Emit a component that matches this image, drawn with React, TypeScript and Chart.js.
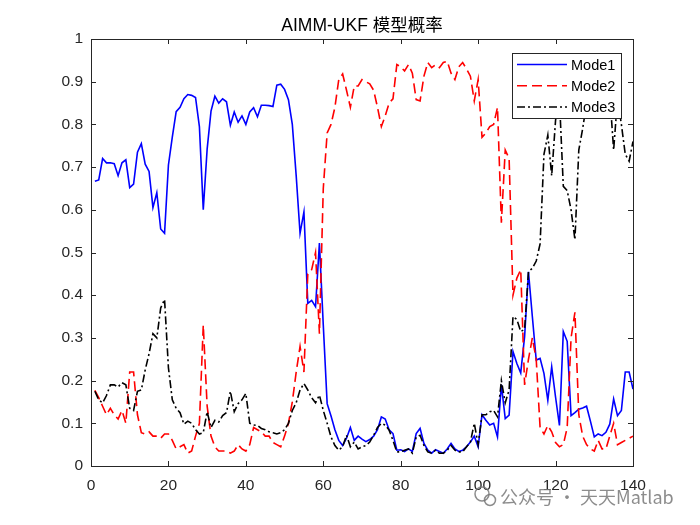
import React, { useEffect, useRef } from 'react';
import { Chart, registerables } from 'chart.js';

// Register Chart.js components
Chart.register(...registerables);

// Model probabilities, one value per step (steps 1..140)
const mode1 = [
  0.667, 0.67, 0.72, 0.71, 0.71, 0.708, 0.68, 0.71, 0.717, 0.652,
  0.66, 0.735, 0.755, 0.707, 0.69, 0.605, 0.64, 0.555, 0.545, 0.705,
  0.77, 0.83, 0.84, 0.86, 0.87, 0.868, 0.863, 0.795, 0.6, 0.742,
  0.831, 0.866, 0.85, 0.86, 0.853, 0.798, 0.829, 0.805, 0.82, 0.8,
  0.829, 0.839, 0.818, 0.845, 0.845, 0.844, 0.842, 0.892, 0.894, 0.882,
  0.858, 0.8, 0.68, 0.545, 0.595, 0.381, 0.388, 0.373, 0.522, 0.33,
  0.146, 0.117, 0.085, 0.06, 0.048, 0.065, 0.09, 0.06, 0.07, 0.063,
  0.057, 0.062, 0.07, 0.085, 0.115, 0.11, 0.085, 0.076, 0.037, 0.038,
  0.034, 0.04, 0.034, 0.076, 0.088, 0.053, 0.037, 0.03, 0.038, 0.034,
  0.03, 0.04, 0.053, 0.04, 0.034, 0.037, 0.045, 0.056, 0.07, 0.045,
  0.12, 0.107, 0.096, 0.1, 0.068, 0.19, 0.111, 0.119, 0.268, 0.24,
  0.218, 0.303, 0.455, 0.35, 0.248, 0.252, 0.217, 0.154, 0.232, 0.161,
  0.095, 0.315, 0.292, 0.118, 0.125, 0.133, 0.136, 0.14, 0.105, 0.068,
  0.075, 0.071, 0.079, 0.098, 0.157, 0.118, 0.13, 0.22, 0.22, 0.18,
];

const mode2 = [
  0.177, 0.16, 0.14, 0.12, 0.135, 0.12, 0.11, 0.13, 0.1, 0.22,
  0.22, 0.12, 0.078, 0.075, 0.08, 0.07, 0.07, 0.065, 0.075, 0.075,
  0.06, 0.04, 0.045, 0.05, 0.03, 0.035, 0.07, 0.1, 0.33, 0.14,
  0.07, 0.045, 0.035, 0.035, 0.035, 0.03, 0.035, 0.05, 0.04, 0.035,
  0.05, 0.09, 0.085, 0.08, 0.07, 0.07, 0.055, 0.05, 0.045, 0.07,
  0.1, 0.15, 0.22, 0.28, 0.22, 0.45, 0.46, 0.5, 0.31, 0.65,
  0.78, 0.8, 0.84, 0.905, 0.918, 0.88, 0.84, 0.89, 0.89, 0.905,
  0.9, 0.895, 0.88, 0.84, 0.795, 0.82, 0.85, 0.86, 0.94, 0.935,
  0.925, 0.94, 0.92, 0.858, 0.855, 0.913, 0.945, 0.933, 0.94, 0.933,
  0.945, 0.948, 0.92, 0.905, 0.935, 0.945, 0.93, 0.913, 0.855, 0.905,
  0.77, 0.78, 0.795, 0.8, 0.84, 0.57, 0.74, 0.72, 0.4, 0.44,
  0.46, 0.19, 0.25, 0.3, 0.25, 0.09, 0.075, 0.095, 0.08, 0.055,
  0.045, 0.05, 0.09, 0.3, 0.36, 0.12, 0.07, 0.05, 0.04, 0.035,
  0.06, 0.04, 0.04, 0.07, 0.1, 0.05, 0.055, 0.06, 0.065, 0.07,
];

const mode3 = [
  0.175, 0.155, 0.148, 0.165, 0.19, 0.19, 0.185, 0.195, 0.19, 0.135,
  0.13, 0.175, 0.178, 0.225, 0.263, 0.31, 0.3, 0.37, 0.39, 0.23,
  0.155, 0.135, 0.125, 0.098, 0.105, 0.1, 0.085, 0.075, 0.078, 0.127,
  0.09, 0.107, 0.103, 0.118, 0.125, 0.175, 0.127, 0.146, 0.155, 0.17,
  0.1, 0.096, 0.095, 0.088, 0.085, 0.08, 0.078, 0.075, 0.078, 0.085,
  0.1, 0.13, 0.148, 0.178, 0.193, 0.178, 0.16, 0.148, 0.166, 0.13,
  0.1, 0.068, 0.048, 0.037, 0.045, 0.072, 0.045, 0.056, 0.04, 0.045,
  0.048, 0.056, 0.072, 0.09, 0.1, 0.096, 0.084, 0.06, 0.033, 0.033,
  0.037, 0.04, 0.03, 0.068, 0.072, 0.048, 0.033, 0.03, 0.037, 0.03,
  0.03, 0.037, 0.048, 0.037, 0.033, 0.033, 0.045, 0.056, 0.1, 0.05,
  0.12, 0.12, 0.127, 0.13, 0.115, 0.2, 0.148, 0.178, 0.35, 0.343,
  0.315, 0.32, 0.455, 0.463, 0.48, 0.52, 0.73, 0.775, 0.68, 0.81,
  0.86, 0.655, 0.645, 0.6, 0.53, 0.74, 0.79, 0.85, 0.88, 0.9,
  0.9, 0.88, 0.89, 0.87, 0.74, 0.86, 0.8, 0.73, 0.714, 0.76,
];

const seriesNames = ['Mode1', 'Mode2', 'Mode3'];
const xTicks = [0, 20, 40, 60, 80, 100, 120, 140];
const yTicks = [0, 0.1, 0.2, 0.3, 0.4, 0.5, 0.6, 0.7, 0.8, 0.9, 1];
const titleText = 'AIMM-UKF 模型概率';
const watermarkText = '公众号 · 天天Matlab';

const AXIS = '#262626';
const FONT = '"Liberation Sans", Arial, "Noto Sans CJK SC", sans-serif';
const CJK = '"Noto Sans CJK SC", "Liberation Sans", sans-serif';

const styles = [
  { color: '#0000ff', dash: [] as number[] },
  { color: '#ff0000', dash: [10, 5] },
  { color: '#000000', dash: [8, 3, 2, 3] },
];

// MATLAB-like box, inward ticks, legend, title
const matlabDecor = {
  id: 'matlabDecor',
  afterDatasetsDraw(chart: Chart) {
    const { ctx, chartArea: a, scales } = chart;
    ctx.save();
    ctx.setLineDash([]);
    ctx.strokeStyle = AXIS;
    ctx.lineWidth = 1;
    ctx.beginPath();
    xTicks.forEach((v) => {
      const px = Math.round(scales.x.getPixelForValue(v)) + 0.5;
      ctx.moveTo(px, a.bottom);
      ctx.lineTo(px, a.bottom - 5);
      ctx.moveTo(px, a.top);
      ctx.lineTo(px, a.top + 5);
    });
    yTicks.forEach((v) => {
      const py = Math.round(scales.y.getPixelForValue(v)) + 0.5;
      ctx.moveTo(a.left, py);
      ctx.lineTo(a.left + 5, py);
      ctx.moveTo(a.right, py);
      ctx.lineTo(a.right - 5, py);
    });
    ctx.stroke();
    ctx.strokeRect(a.left + 0.5, a.top + 0.5, a.right - a.left, a.bottom - a.top);

    // legend box inside the axes (opaque, like MATLAB)
    const lx = 512;
    const ly = 53;
    const lw = 109;
    const lh = 65;
    ctx.fillStyle = '#ffffff';
    ctx.fillRect(lx, ly, lw, lh);
    ctx.strokeStyle = AXIS;
    ctx.strokeRect(lx + 0.5, ly + 0.5, lw, lh);
    ctx.font = `14.5px ${FONT}`;
    ctx.textBaseline = 'middle';
    ctx.textAlign = 'left';
    seriesNames.forEach((name, i) => {
      const ry = 64.5 + i * 21.3;
      ctx.strokeStyle = styles[i].color;
      ctx.lineWidth = 1.5;
      ctx.setLineDash(styles[i].dash);
      ctx.beginPath();
      ctx.moveTo(517, ry);
      ctx.lineTo(567, ry);
      ctx.stroke();
      ctx.setLineDash([]);
      ctx.fillStyle = '#000000';
      ctx.fillText(name, 571, ry + 1);
    });

    // title
    ctx.font = `17.5px ${FONT}`;
    ctx.fillStyle = '#000000';
    ctx.textAlign = 'center';
    ctx.textBaseline = 'alphabetic';
    ctx.fillText(titleText, (a.left + a.right) / 2, 31);

    // watermark
    ctx.font = `18px ${CJK}`;
    ctx.fillStyle = 'rgba(120,120,120,0.85)';
    ctx.textAlign = 'left';
    ctx.textBaseline = 'middle';
    ctx.fillText(watermarkText, 500, 497);
    ctx.strokeStyle = 'rgba(120,120,120,0.85)';
    ctx.lineWidth = 1.5;
    ctx.beginPath();
    ctx.arc(482, 494, 7, 0, Math.PI * 2);
    ctx.stroke();
    ctx.beginPath();
    ctx.arc(490, 500, 5.5, 0, Math.PI * 2);
    ctx.stroke();
    ctx.restore();
  },
};

const App: React.FC = () => {
  const chartRef = useRef<HTMLCanvasElement>(null);
  const chartInstance = useRef<Chart | null>(null);

  useEffect(() => {
    if (!chartRef.current) return;
    const ctx = chartRef.current.getContext('2d');
    if (!ctx) return;

    const series = [mode1, mode2, mode3];

    chartInstance.current = new Chart(ctx, {
      type: 'line',
      data: {
        datasets: series.map((values, i) => ({
          label: seriesNames[i],
          data: values.map((y, k) => ({ x: k + 1, y })),
          borderColor: styles[i].color,
          borderDash: styles[i].dash,
          borderWidth: 1.6,
          pointRadius: 0,
          tension: 0,
          fill: false,
          order: 2 - i,
        })),
      },
      options: {
        responsive: true,
        maintainAspectRatio: false,
        animation: false,
        layout: { padding: { left: 0, top: 39, right: 67, bottom: 0 } },
        plugins: {
          legend: { display: false },
          title: { display: false },
          tooltip: { enabled: false },
        },
        scales: {
          x: {
            type: 'linear',
            min: 0,
            max: 140,
            afterBuildTicks: (s: any) => {
              s.ticks = xTicks.map((v) => ({ value: v }));
            },
            afterFit: (s: any) => {
              s.height = 59;
            },
            ticks: {
              autoSkip: false,
              maxRotation: 0,
              padding: 10,
              color: AXIS,
              font: { family: FONT, size: 15.5 },
              callback: (v: any) => String(v),
            },
            grid: { display: false, drawTicks: false },
            border: { display: false },
          },
          y: {
            min: 0,
            max: 1,
            afterBuildTicks: (s: any) => {
              s.ticks = yTicks.map((v) => ({ value: v }));
            },
            afterFit: (s: any) => {
              s.width = 91;
            },
            ticks: {
              autoSkip: false,
              padding: 8,
              color: AXIS,
              font: { family: FONT, size: 15.5 },
              callback: (v: any) => String(Math.round(Number(v) * 10) / 10),
            },
            grid: { display: false, drawTicks: false },
            border: { display: false },
          },
        },
      },
      plugins: [matlabDecor],
    });

    return () => {
      if (chartInstance.current) {
        chartInstance.current.destroy();
        chartInstance.current = null;
      }
    };
  }, []);

  return (
    <div style={{ position: 'fixed', left: 0, top: 0, width: 700, height: 525, background: '#ffffff' }}>
      <canvas ref={chartRef}></canvas>
    </div>
  );
};

export default App;
